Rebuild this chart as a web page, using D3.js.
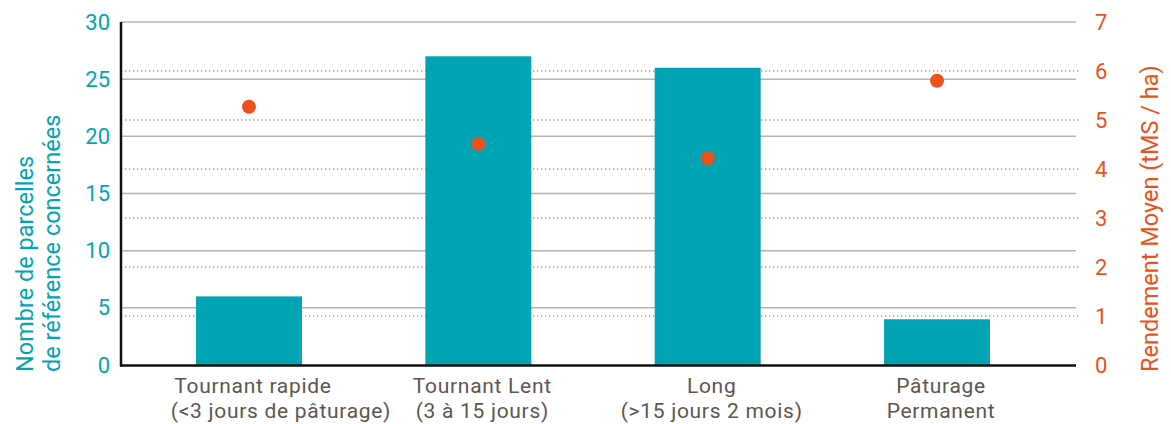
<!DOCTYPE html>
<html lang="fr">
<head>
<meta charset="utf-8">
<script src="https://cdn.jsdelivr.net/npm/d3@7"></script>
<style>
  html, body { margin: 0; padding: 0; background: #ffffff; }
  svg { display: block; font-family: Roboto, "Noto Sans", sans-serif; }
</style>
</head>
<body>
<svg id="chart" width="1171" height="424"></svg>
<script>
// Pratiques de pâturage : nombre de parcelles (barres) et rendement moyen (points)
const categories = ["Tournant rapide", "Tournant Lent", "Long", "Pâturage Permanent"];
const categoryLines = [
  ["Tournant rapide", "(<3 jours de pâturage)"],
  ["Tournant Lent", "(3 à 15 jours)"],
  ["Long", "(>15 jours 2 mois)"],
  ["Pâturage", "Permanent"]
];
const parcelles = [6, 27, 26, 4];
const rendement = [5.27, 4.51, 4.22, 5.8];
const leftTicks = [0, 5, 10, 15, 20, 25, 30];
const rightTicks = [0, 1, 2, 3, 4, 5, 6, 7];

const TEAL = "#00a4b5";
const ORANGE = "#ea5219";
const DOT_LINE = "#f0804f";
const GRID = "#b4b4b4";
const TEXT = "#5e5551";

const svg = d3.select("#chart");
const plotLeft = 121, plotRight = 1076, plotTop = 22, plotBottom = 365;

const x = d3.scaleBand()
  .domain(categories)
  .range([plotLeft, 1065])
  .paddingInner(0.538)
  .paddingOuter(0.327);

const yL = d3.scaleLinear().domain([0, 30]).range([plotBottom, plotTop]);
const yR = d3.scaleLinear().domain([0, 7]).range([plotBottom, plotTop]);

// Grilles : traits pleins pour l'axe de gauche, pointillés pour celui de droite
svg.append("g")
  .selectAll("line")
  .data(leftTicks.filter(d => d > 0))
  .join("line")
  .attr("x1", plotLeft).attr("x2", plotRight)
  .attr("y1", d => yL(d)).attr("y2", d => yL(d))
  .attr("stroke", GRID).attr("stroke-width", 1.5);

svg.append("g")
  .selectAll("line")
  .data(rightTicks.filter(d => d > 0 && d < 7))
  .join("line")
  .attr("x1", plotLeft).attr("x2", plotRight + 3)
  .attr("y1", d => yR(d)).attr("y2", d => yR(d))
  .attr("stroke", DOT_LINE).attr("stroke-width", 1.3)
  .attr("stroke-dasharray", "1.3,2.7");

// Barres
svg.append("g")
  .selectAll("rect")
  .data(parcelles)
  .join("rect")
  .attr("x", (d, i) => x(categories[i]))
  .attr("width", x.bandwidth())
  .attr("y", d => yL(d))
  .attr("height", d => plotBottom - yL(d))
  .attr("fill", TEAL);

// Points de rendement
svg.append("g")
  .selectAll("circle")
  .data(rendement)
  .join("circle")
  .attr("cx", (d, i) => x(categories[i]) + x.bandwidth() / 2)
  .attr("cy", d => yR(d))
  .attr("r", 7)
  .attr("fill", ORANGE);

// Axes
svg.append("line")
  .attr("x1", plotLeft).attr("x2", plotLeft)
  .attr("y1", plotTop).attr("y2", plotBottom + 1.5)
  .attr("stroke", "#111").attr("stroke-width", 2.5);
svg.append("line")
  .attr("x1", plotLeft - 1).attr("x2", plotRight)
  .attr("y1", plotBottom + 0.5).attr("y2", plotBottom + 0.5)
  .attr("stroke", "#111").attr("stroke-width", 2.5);

// Graduations gauche
const gL = svg.append("g")
  .attr("transform", `translate(${plotLeft},0)`)
  .call(d3.axisLeft(yL).tickValues(leftTicks).tickFormat(d3.format("d")).tickSize(0).tickPadding(11));
gL.select(".domain").remove();
gL.selectAll("text")
  .attr("fill", TEAL).attr("font-size", 22).attr("font-family", "Roboto, sans-serif");

// Graduations droite
const gR = svg.append("g")
  .attr("transform", `translate(1095,0)`)
  .call(d3.axisRight(yR).tickValues(rightTicks).tickFormat(d3.format("d")).tickSize(0).tickPadding(0));
gR.select(".domain").remove();
gR.selectAll("text")
  .attr("fill", ORANGE).attr("font-size", 22).attr("font-family", "Roboto, sans-serif");

// Titres des axes
const leftTitle = svg.append("text")
  .attr("transform", "translate(33,372) rotate(-90)")
  .attr("fill", TEAL).attr("font-size", 23.5);
leftTitle.append("tspan").attr("x", 0).attr("y", 0).text("Nombre de parcelles");
leftTitle.append("tspan").attr("x", 0).attr("y", 27).text("de référence concernées");

svg.append("text")
  .attr("transform", "translate(1158,372) rotate(-90)")
  .attr("fill", ORANGE).attr("font-size", 23.5)
  .text("Rendement Moyen (tMS / ha)");

// Étiquettes des catégories (une ligne par élément texte)
const labelGroups = svg.append("g")
  .selectAll("g")
  .data(categoryLines)
  .join("g");
labelGroups.each(function(lines, i) {
  const cx = x(categories[i]) + x.bandwidth() / 2 + 4;
  d3.select(this).selectAll("text")
    .data(lines)
    .join("text")
    .attr("x", (ln, j) => cx + (i === 0 && j === 1 ? 28 : 0))
    .attr("y", (ln, j) => 393 + j * 25)
    .attr("fill", TEXT)
    .attr("font-size", 21)
    .attr("letter-spacing", 0.7)
    .attr("text-anchor", "middle")
    .text(ln => ln);
});
</script>
</body>
</html>
